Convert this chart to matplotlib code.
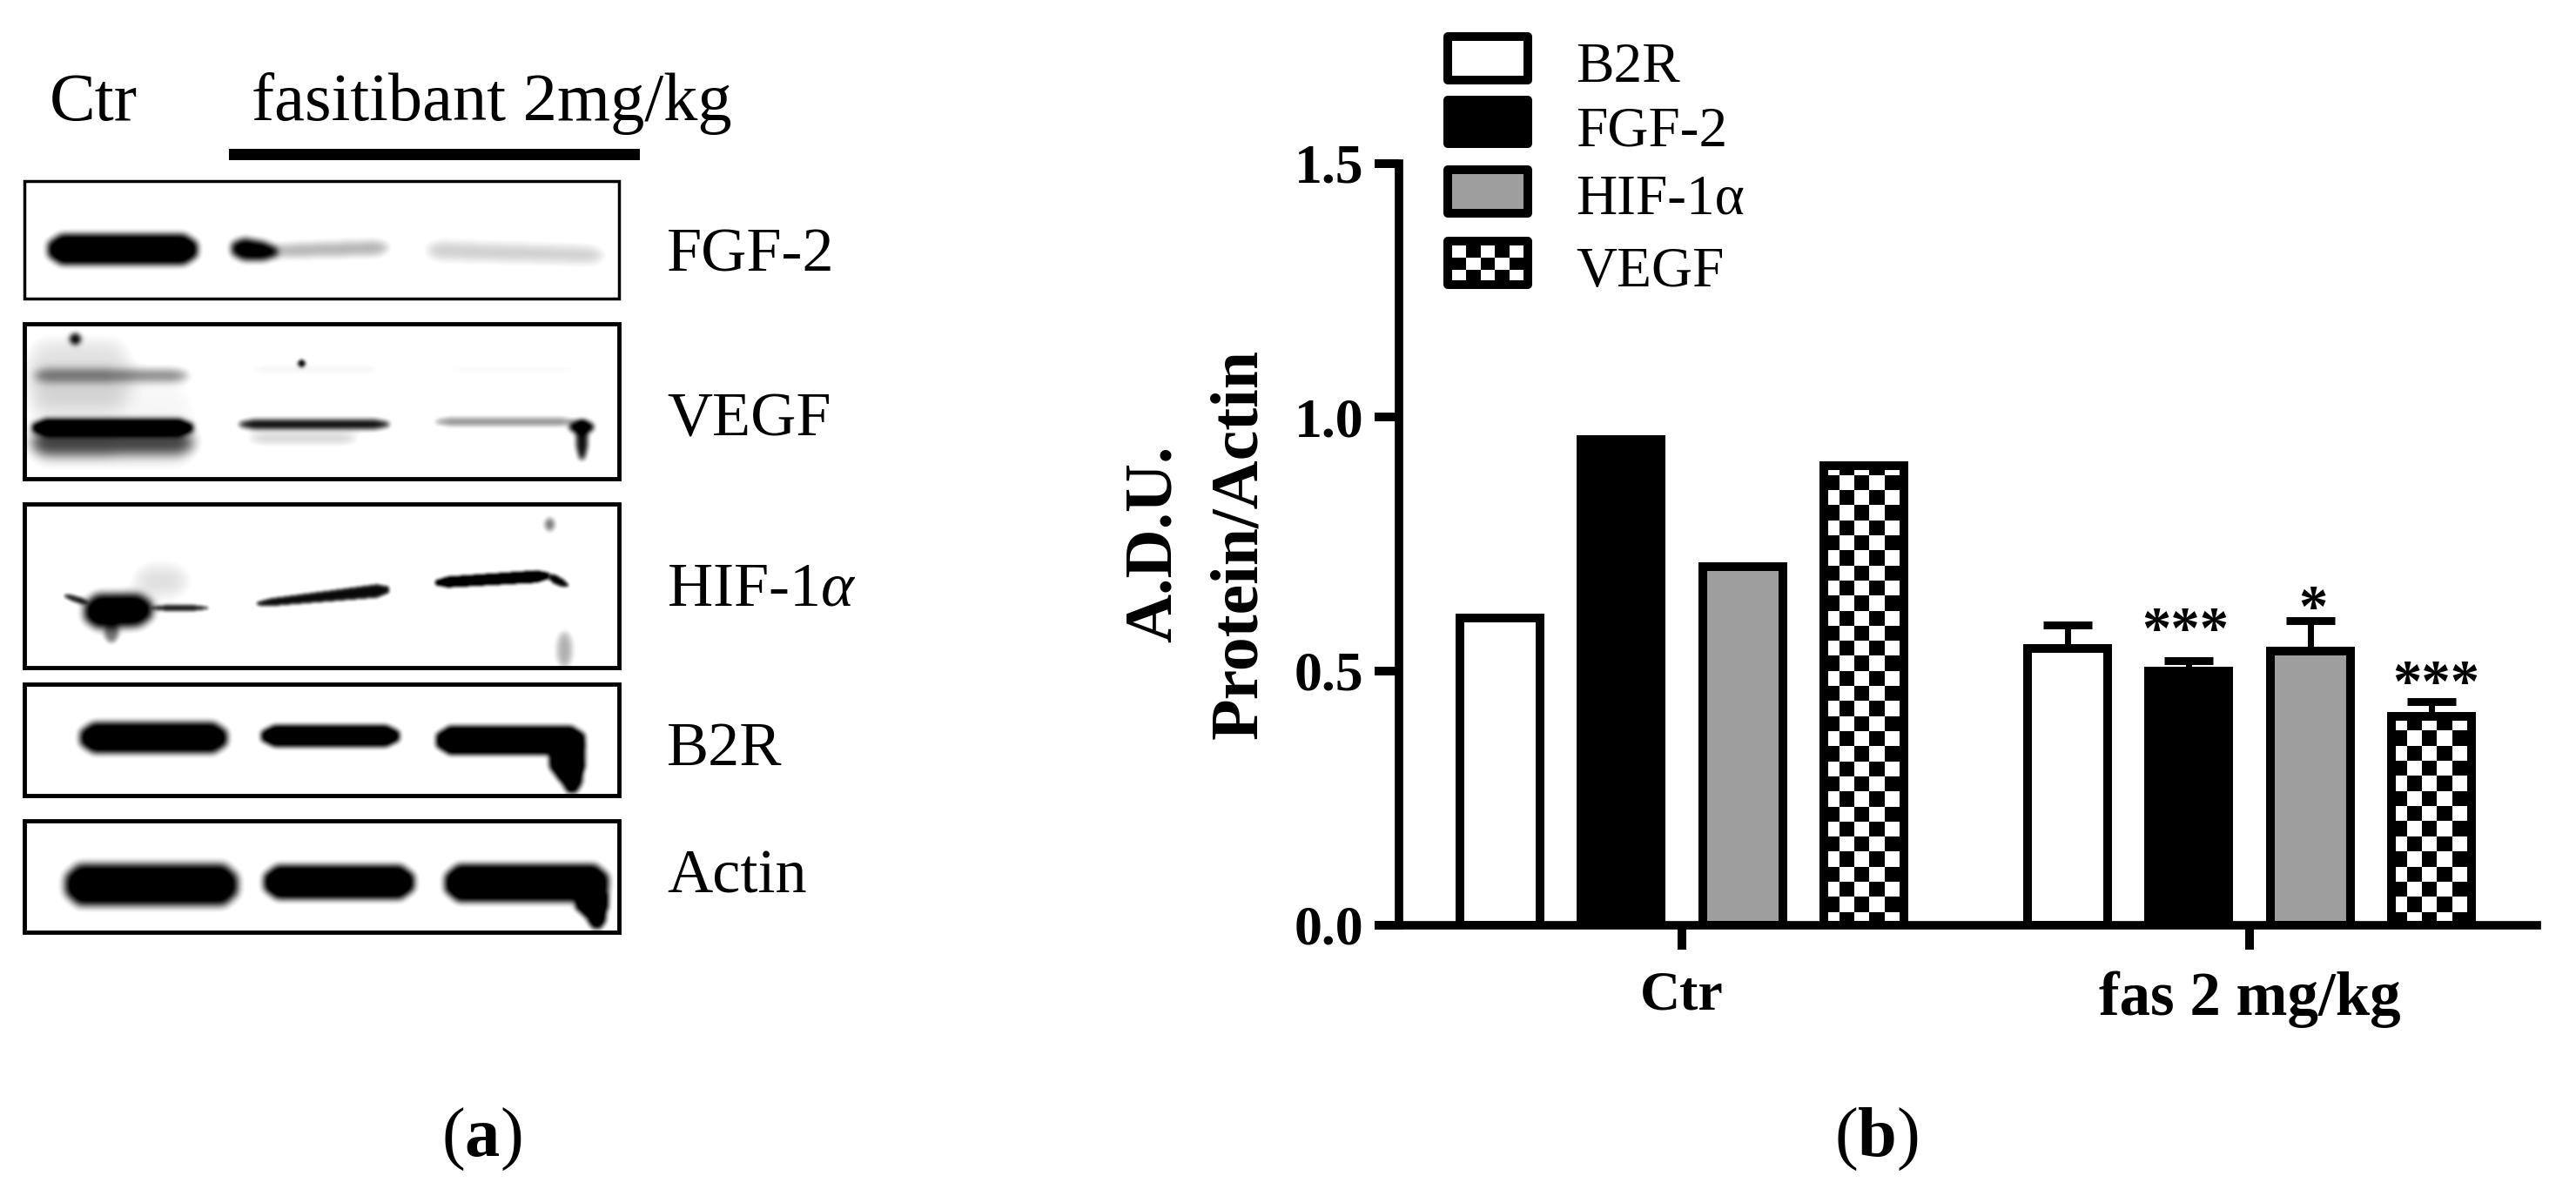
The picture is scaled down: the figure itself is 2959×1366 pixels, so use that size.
import numpy as np
import matplotlib
matplotlib.use("Agg")
import matplotlib.pyplot as plt
from matplotlib.patches import Rectangle

plt.rcParams["font.family"] = ["Liberation Serif", "DejaVu Serif"]
plt.rcParams["mathtext.fontset"] = "custom"
plt.rcParams["mathtext.rm"] = "Liberation Serif"
plt.rcParams["mathtext.it"] = "Liberation Serif:italic"
plt.rcParams["mathtext.bf"] = "Liberation Serif:bold"

W, H = 2959, 1366

# bar panel values
groups = ["Ctr", "fas 2 mg/kg"]
proteins = ["B2R", "FGF-2", "HIF-1α", "VEGF"]
b2r = [0.605, 0.545]
fgf2 = [0.955, 0.50]
hif1a = [0.705, 0.54]
vegf = [0.905, 0.41]
b2r_err = [0, 0.045]
fgf2_err = [0, 0.02]
hif1a_err = [0, 0.06]
vegf_err = [0, 0.03]
sig_labels = ["", "***", "*", "***"]
y_ticks = [0.0, 0.5, 1.0, 1.5]

# blot panels: name, top, bottom, baseline of the name
blot_names = ["FGF-2", r"VEGF", r"HIF-1$\alpha$", "B2R", "Actin"]
blot_top = [208, 372, 579, 786, 943]
blot_bottom = [343, 550, 767, 914, 1071]
blot_baseline = [312, 501, 696, 879, 1026]

# blot bands: x0, x1, yc0, yc1, half0, half1, darkness, blur
fgf_bands = [(55, 226, 286, 286, 17, 17, 1.0, 4), (266, 318, 285, 289, 14, 9, .95, 4),
             (312, 445, 288, 284, 7, 8, .3, 5), (490, 692, 287, 293, 10, 9, .2, 6)]
vegf_bands = [(37, 221, 491, 491, 10, 10, 1.0, 3), (37, 221, 508, 508, 15, 13, .65, 7),
              (40, 215, 431, 431, 8, 6, .45, 5), (30, 150, 430, 430, 40, 40, .13, 10),
              (30, 225, 490, 490, 50, 50, .06, 10), (80, 92, 389, 389, 6, 6, .9, 3),
              (275, 446, 487, 487, 5, 5, .85, 3), (285, 410, 503, 503, 5, 5, .2, 5),
              (285, 440, 424, 424, 4, 4, .09, 5), (342, 350, 417, 417, 4, 4, .9, 2),
              (500, 660, 484, 484, 4, 4, .4, 3), (654, 681, 490, 490, 7, 7, .95, 3),
              (662, 674, 505, 505, 22, 22, .85, 3), (510, 670, 424, 424, 4, 4, .07, 5)]
hif_bands = [(97, 174, 702, 700, 20, 18, 1.0, 5), (174, 238, 698, 698, 3, 3, .8, 2),
             (120, 135, 725, 725, 12, 12, .5, 3), (154, 215, 667, 667, 18, 18, .14, 9),
             (74, 100, 684, 692, 3, 4, .8, 2), (295, 446, 693, 677, 4, 8, .85, 2),
             (500, 630, 669, 661, 6, 7, 1.0, 2), (630, 652, 662, 672, 6, 4, .9, 2),
             (626, 636, 602, 602, 7, 7, .5, 3), (640, 656, 746, 746, 20, 20, .3, 4)]
b2r_bands = [(92, 260, 847, 847, 17, 17, 1.0, 4), (300, 458, 845, 845, 12, 12, 1.0, 3),
             (501, 671, 850, 850, 16, 16, 1.0, 3), (631, 671, 870, 870, 26, 26, 1.0, 3),
             (645, 668, 890, 890, 20, 20, 1.0, 3)]
actin_bands = [(75, 272, 1016, 1016, 23, 23, 1.0, 5), (303, 475, 1013, 1013, 19, 19, 1.0, 4),
               (511, 698, 1014, 1014, 21, 21, 1.0, 4), (661, 698, 1035, 1035, 18, 18, 1.0, 3),
               (675, 695, 1052, 1052, 14, 14, 1.0, 3)]
blot_bands = [fgf_bands, vegf_bands, hif_bands, b2r_bands, actin_bands]


def blur(arr, s):
    n = int(s * 3)
    k = np.exp(-0.5 * (np.arange(-n, n + 1) / s) ** 2)
    k = k / k.sum()
    arr = np.apply_along_axis(lambda c: np.convolve(c, k, mode="same"), 0, arr)
    arr = np.apply_along_axis(lambda c: np.convolve(c, k, mode="same"), 1, arr)
    return arr


def blot_image(bands, top, bottom):
    xs = np.arange(28, 712)
    ys = np.arange(top, bottom)
    xx, yy = np.meshgrid(xs, ys)
    clear = np.ones(xx.shape)
    for x0, x1, c0, c1, h0, h1, dark, s in bands:
        t = (xx - x0) / max(x1 - x0, 1)
        yc = c0 + (c1 - c0) * t
        # bands get thinner towards their ends
        ramp = min(25, (x1 - x0) / 2)
        half = (h0 + (h1 - h0) * t) * np.clip(np.minimum(xx - x0, x1 - xx) / ramp + 0.45, 0, 1)
        mask = (xx >= x0) & (xx <= x1) & (np.abs(yy - yc) <= half)
        clear = clear * (1 - blur(mask * 1.0, s) * dark)
    return np.clip((clear - 0.12) / 0.85, 0, 1)


def checker(rows, cols):
    return np.indices((rows, cols)).sum(axis=0) % 2


fig = plt.figure(figsize=(W / 100, H / 100), dpi=100, facecolor="white")

# whole figure layer in pixels, for the blots, legend and free text
canvas = fig.add_axes([0, 0, 1, 1])
canvas.axis("off")

text_size = 52
canvas.text(57, 138, "Ctr", fontsize=57)
canvas.text(289, 138, "fasitibant 2mg/kg", fontsize=56.5)
canvas.add_patch(Rectangle((263, 171), 472, 13, fc="black", ec="none"))

for i, name in enumerate(blot_names):
    img = blot_image(blot_bands[i], blot_top[i], blot_bottom[i])
    canvas.imshow(img, cmap="gray", vmin=0, vmax=1, aspect="auto",
                  extent=(28, 712, blot_bottom[i], blot_top[i]))
    canvas.add_patch(Rectangle((28, blot_top[i]), 683, blot_bottom[i] - blot_top[i],
                               fc="none", ec="black", lw=2.5 if i == 0 else 3.5))
    canvas.text(766, blot_baseline[i], name, fontsize=text_size)

# legend
swatch_top = [42, 115, 195, 277]
swatch_base = [94, 167, 245, 329]
swatch_colors = ["white", "black", "#9e9e9e", "white"]
for i, name in enumerate(proteins):
    canvas.add_patch(Rectangle((1663, swatch_top[i]), 92, 50, fc=swatch_colors[i], ec="black",
                               lw=7.2, zorder=3, joinstyle="round", fill=i != 3))
    if i == 3:
        canvas.imshow(1 - checker(3, 5), cmap="gray", vmin=0, vmax=1, aspect="auto", zorder=2,
                      extent=(1668, 1750, swatch_top[i] + 47, swatch_top[i] + 5), interpolation="nearest")
    canvas.text(1810, swatch_base[i], name, fontsize=47)

canvas.text(507, 1328, r"($\mathbf{a}$)", fontsize=58)
canvas.text(2107, 1328, r"($\mathbf{b}$)", fontsize=58)
canvas.set_xlim(0, W)
canvas.set_ylim(H, 0)

# bar chart
ax_l, ax_r, ax_t, ax_b = 1607, 2914, 187.5, 1062.5
ax = fig.add_axes([ax_l / W, 1 - ax_b / H, (ax_r - ax_l) / W, (ax_b - ax_t) / H])
ax.patch.set_alpha(0)

x = np.arange(len(groups))
px = 1 / 652
spacing = 139.4 * px
bar_w = 92 * px
cell = 17.3
series = [b2r, fgf2, hif1a, vegf]
errors = [b2r_err, fgf2_err, hif1a_err, vegf_err]
fills = ["white", "black", "#9e9e9e", "none"]
for i in range(4):
    pos = x + (i - 1.5) * spacing
    ax.errorbar(pos, series[i], yerr=[[0, 0], errors[i]], fmt="none", ecolor="black",
                elinewidth=5, capsize=20, capthick=6.5, zorder=1)
    bars = ax.bar(pos, series[i], bar_w, facecolor=fills[i], edgecolor="black", linewidth=7.2,
                  zorder=3)
    if i == 3:
        for b, val in zip(bars, series[i]):
            rows = int(val * 583.3 / cell) + 1
            right = b.get_x() + bar_w - 5 * px
            im = ax.imshow(checker(rows, 6), cmap="gray", vmin=0, vmax=1, aspect="auto",
                           interpolation="nearest", zorder=2,
                           extent=(right - 6 * cell * px, right, -3 / 583.3, (rows * cell - 3) / 583.3))
            im.set_clip_path(b)

star_offset = [0, 0.027, -0.009, 0.004]
star_dx = [0, -0.006, 0.005, 0.008]
for i in range(4):
    if sig_labels[i]:
        ax.text(x[1] + (i - 1.5) * spacing + star_dx[i], series[i][1] + errors[i][1] + star_offset[i],
                sig_labels[i], fontsize=48, fontweight="bold", ha="center", va="baseline", zorder=4)

ax.set_xlim((ax_l - 1932) * px, (ax_r - 1932) * px)
ax.set_ylim(0, 1.5)
ax.set_xticks(x)
ax.set_xticklabels(groups, fontweight="bold", fontsize=51)
ax.get_xticklabels()[0].set_fontsize(46)
ax.set_yticks(y_ticks)
ax.set_yticklabels(["%.1f" % t for t in y_ticks], fontweight="bold", fontsize=46)
ax.tick_params(axis="both", length=20, width=7.2)
ax.tick_params(axis="x", pad=18)
ax.tick_params(axis="y", pad=9)
for side in ["top", "right"]:
    ax.spines[side].set_visible(False)
for side in ["left", "bottom"]:
    ax.spines[side].set_linewidth(7)
    ax.spines[side].set_capstyle("projecting")
ax.set_ylabel("A.D.U.\nProtein/Actin", fontweight="bold", fontsize=56, linespacing=1.5)
ax.yaxis.set_label_coords(-0.1125, 0.5)

fig.savefig("out.png", dpi=100)
